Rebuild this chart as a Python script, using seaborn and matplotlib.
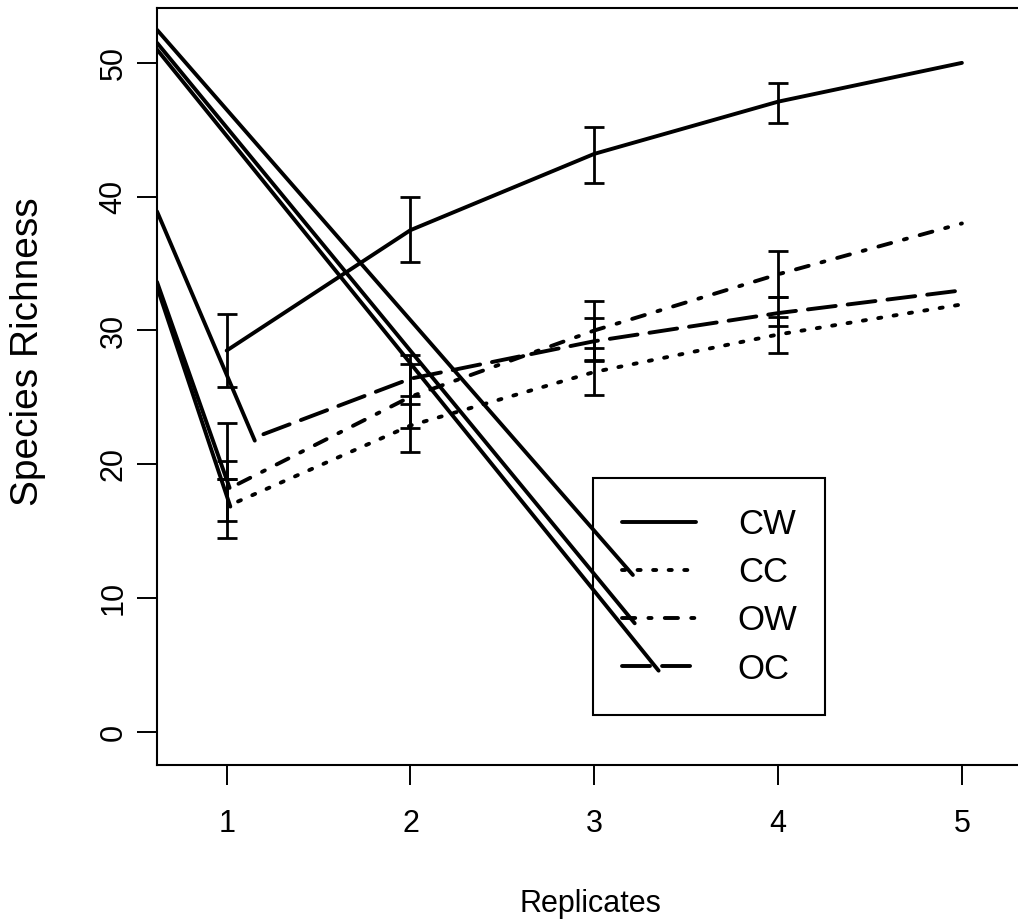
import numpy as np
import pandas as pd
import matplotlib
matplotlib.use("Agg")
import matplotlib.pyplot as plt
import seaborn as sns
from matplotlib.lines import Line2D

# ---------------- data ----------------
replicates = [1, 2, 3, 4, 5]
groups = ["CW", "CC", "OW", "OC"]

cw_mean = [28.5, 37.5, 43.2, 47.1, 50.0]
cc_mean = [16.85, 22.9, 26.9, 29.7, 31.95]
ow_mean = [18.1, 25.05, 30.0, 34.2, 38.0]
oc_mean = [21.0, 26.4, 29.2, 31.3, 33.0]

# visible start of the OC dashed line (line begins slightly right of replicate 1)
oc_line_x = [1.2, 2, 3, 4, 5]
oc_line_y = [22.25, 26.4, 29.2, 31.3, 33.0]

err_x = [1, 2, 3, 4]
cw_lo = [25.8, 35.1, 41.0, 45.5]
cw_hi = [31.2, 40.0, 45.2, 48.5]
cc_lo = [14.5, 20.9, 25.2, 28.35]
cc_hi = [18.9, 25.1, 28.7, 31.0]
ow_lo = [15.8, 22.7, 27.8, 32.5]
ow_hi = [20.25, 27.5, 32.2, 35.95]
oc_lo = [18.9, 24.5, 27.7, 30.3]
oc_hi = [23.1, 28.2, 30.9, 32.5]

# stray solid segments present in the original figure
stray_x0 = [0.621, 0.621, 0.621, 0.621, 0.621, 0.621]
stray_y0 = [52.47, 51.5, 51.0, 38.9, 33.63, 33.26]
stray_x1 = [3.21, 3.22, 3.35, 1.153, 1.016, 1.02]
stray_y1 = [11.73, 8.12, 4.58, 21.77, 18.24, 16.84]

x_ticks = [1, 2, 3, 4, 5]
y_ticks = [0, 10, 20, 30, 40, 50]
x_label = "Replicates"
y_label = "Species Richness"

# ---------------- style ----------------
sns.set_style("ticks")
plt.rcParams["font.family"] = ["Liberation Sans", "DejaVu Sans"]
plt.rcParams["text.color"] = "black"
plt.rcParams["axes.labelcolor"] = "black"
plt.rcParams["xtick.color"] = "black"
plt.rcParams["ytick.color"] = "black"
plt.rcParams["axes.edgecolor"] = "black"

W, H = 1018, 924
fig = plt.figure(figsize=(W / 100, H / 100), dpi=100)
left, right, top, bottom = 157, 1023, 8, 765
ax = fig.add_axes([left / W, 1 - bottom / H, (right - left) / W, (bottom - top) / H])

LW = 2.8
FS = 22

styles = {
    "CW": "-",
    "CC": (0.8, (0.8, 3.2)),
    "OW": (7.6, (3.4, 3.4, 0.8, 3.4)),
    "OC": (0, (7.2, 3.1)),
}
legend_styles = {
    "CW": "-",
    "CC": (0, (0.8, 3.2)),
    "OW": (0, (3.4, 3.4, 0.8, 3.4)),
    "OC": (0, (7.2, 3.1)),
}

def draw_line(x, y, ls):
    sns.lineplot(x=x, y=y, ax=ax, color="black", linewidth=LW, estimator=None,
                 sort=False)
    ln = ax.lines[-1]
    ln.set_linestyle(ls)
    ln.set_dash_capstyle("round")
    ln.set_solid_capstyle("round")
    return ln

# stray segments
for x0, y0, x1, y1 in zip(stray_x0, stray_y0, stray_x1, stray_y1):
    draw_line([x0, x1], [y0, y1], "-")

draw_line(replicates, cw_mean, styles["CW"])
draw_line(replicates, cc_mean, styles["CC"])
draw_line(replicates, ow_mean, styles["OW"])
draw_line(oc_line_x, oc_line_y, styles["OC"])

means = {"CW": cw_mean, "CC": cc_mean, "OW": ow_mean, "OC": oc_mean}
los = {"CW": cw_lo, "CC": cc_lo, "OW": ow_lo, "OC": oc_lo}
his = {"CW": cw_hi, "CC": cc_hi, "OW": ow_hi, "OC": oc_hi}
for g in groups:
    m = np.array(means[g][:4])
    lo = np.array(los[g])
    hi = np.array(his[g])
    ax.errorbar(err_x, m, yerr=[m - lo, hi - m], fmt="none", ecolor="black",
                elinewidth=2.0, capsize=7.5, capthick=2.0)

ax.set_xlim(0.621, 1 + (right - 226.7) / 183.8)
ax.set_ylim(-2.47, 54.1)
ax.set_xticks(x_ticks)
ax.set_yticks(y_ticks)
ax.set_xticklabels([str(v) for v in x_ticks])
ax.set_yticklabels([str(v) for v in y_ticks], rotation=90, va="center")
ax.tick_params(axis="both", direction="out", length=14.4, width=1.4,
               labelsize=FS, color="black", labelcolor="black",
               bottom=True, left=True, top=False, right=False)
ax.tick_params(axis="x", pad=17)
ax.tick_params(axis="y", pad=6)
for s in ax.spines.values():
    s.set_visible(True)
    s.set_linewidth(1.5)
    s.set_color("black")

ax.set_xlabel(x_label, fontsize=FS, labelpad=36)
ax.set_ylabel(y_label, fontsize=28)
ax.yaxis.set_label_coords((46 - left) / (right - left), (bottom - 352) / (bottom - top))

handles = [Line2D([0], [0], color="black", lw=LW, linestyle=legend_styles[g],
                  dash_capstyle="round", solid_capstyle="round") for g in groups]
leg = ax.legend(handles, groups, loc="upper left",
                bbox_to_anchor=(592.7 / W, 1 - 709.3 / H, 232.3 / W, 231 / H),
                bbox_transform=fig.transFigure, borderaxespad=0, mode="expand",
                fontsize=25, frameon=True, fancybox=False, framealpha=0,
                edgecolor="black", borderpad=0.85, labelspacing=0.44,
                handlelength=2.13, handletextpad=1.2)
leg.get_frame().set_linewidth(1.5)
leg.get_frame().set_facecolor("none")
leg.get_frame().set_edgecolor("black")
leg.get_frame().set_alpha(None)

fig.savefig("out.png", dpi=100)
